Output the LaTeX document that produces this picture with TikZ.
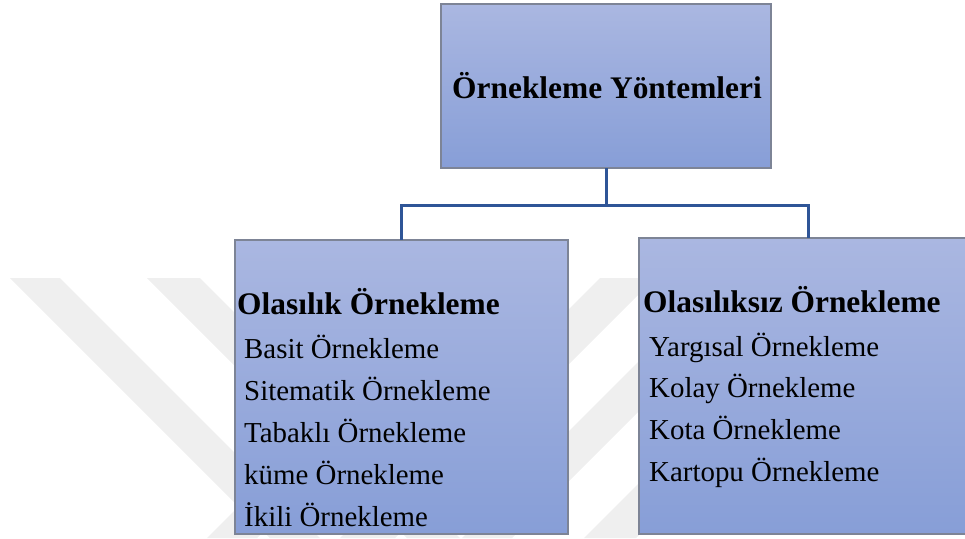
\documentclass[tikz,border=0pt]{standalone}
\usepackage{fontspec}
\setmainfont{Liberation Serif}
\usepackage{tikz}
\usetikzlibrary{calc,backgrounds}
\definecolor{kutuust}{RGB}{170,183,225}
\definecolor{kutualt}{RGB}{135,158,215}
\definecolor{kenar}{RGB}{125,132,150}
\definecolor{hat}{RGB}{47,85,151}
\definecolor{filigran}{RGB}{239,239,239}
\tikzset{
  kutu/.style={draw=kenar,line width=1.3pt,top color=kutuust,bottom color=kutualt,
    inner sep=0pt,outer sep=0pt},
  baglanti/.style={draw=hat,line width=3pt},
  baslik/.style={font=\fontsize{31.4}{36}\selectfont\bfseries,inner sep=0pt},
  madde/.style={font=\fontsize{28.9}{34}\selectfont,anchor=base west,inner sep=0pt},
  iz/.style={fill=filigran}
}

\begin{document}
\begin{tikzpicture}[x=1pt,y=-1pt]
\useasboundingbox (0,0) rectangle (965,538);
% soluk filigran
\fill[iz] (10,278) -- (60,278) -- (320,538) -- (270,538) -- cycle;
\fill[iz] (147,278) -- (200,278) -- (460,538) -- (407,538) -- cycle;
\fill[iz] (467,278) -- (517,278) -- (257,538) -- (207,538) -- cycle;
\fill[iz] (600,278) -- (655,278) -- (395,538) -- (340,538) -- cycle;
\fill[iz] (722,278) -- (772,278) -- (512,538) -- (462,538) -- cycle;
\fill[iz] (844,278) -- (896,278) -- (636,538) -- (584,538) -- cycle;

% kutular
\node[kutu,minimum width=330pt,minimum height=164pt] (yontem) at (606,86) {};
\node[kutu,minimum width=333pt,minimum height=294pt] (olasilik) at (401.5,387) {};
\node[kutu,minimum width=338pt,minimum height=296pt] (olasiliksiz) at (808,386) {};

% baglantilar
\coordinate (catal) at (606,205);
\draw[baglanti] (yontem.south) -- (catal) -| (olasilik.north);
\draw[baglanti] (catal) -| (olasiliksiz.north);

% metinler
\node[baslik,anchor=base] (ana) at (607,98) {Örnekleme Yöntemleri};
\node[baslik,anchor=base west] (solbas) at (237,314) {Olasılık Örnekleme};
\node[baslik,anchor=base west] (sagbas) at (643,312) {Olasılıksız Örnekleme};
\foreach \t [count=\i] in {Basit Örnekleme,Sitematik Örnekleme,Tabaklı Örnekleme,küme Örnekleme,İkili Örnekleme}
  \node[madde] (sol\i) at (244,358+42.2*\i-42.2) {\t};
\foreach \t [count=\i] in {Yargısal Örnekleme,Kolay Örnekleme,Kota Örnekleme,Kartopu Örnekleme}
  \node[madde] (sag\i) at (649,356+41.7*\i-41.7) {\t};
\end{tikzpicture}
\end{document}
